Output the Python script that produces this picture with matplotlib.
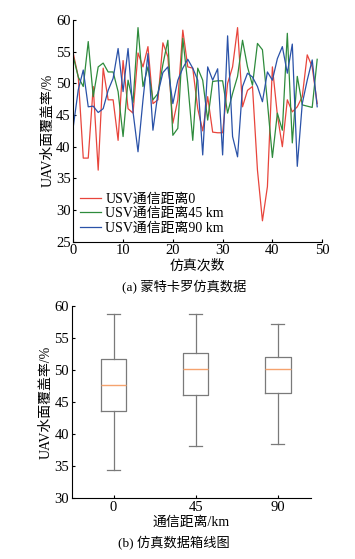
import numpy as np
import matplotlib.pyplot as plt

plt.rcParams['font.family'] = ['Liberation Serif', 'Noto Sans CJK SC']
plt.rcParams['axes.unicode_minus'] = False

# monte carlo runs, coverage rate (%)
runs = np.arange(50)
cov_0 = [54.7, 51.0, 38.2, 38.2, 49.5, 36.3, 52.4, 47.4, 47.4, 41.0,
         53.6, 46.0, 45.3, 54.8, 52.6, 55.8, 46.8, 47.4, 56.4, 54.2,
         43.7, 47.4, 58.4, 52.6, 52.4, 46.0, 42.5, 47.9, 42.3, 42.2,
         42.2, 50.0, 52.6, 58.8, 46.3, 48.9, 49.5, 36.3, 28.3, 33.7,
         52.6, 45.0, 40.0, 47.4, 45.5, 46.3, 47.9, 54.5, 52.6, 46.8]
cov_45 = [54.2, 51.0, 49.5, 56.6, 47.9, 52.6, 53.2, 51.8, 51.8, 48.7,
          41.6, 50.5, 47.0, 58.8, 49.5, 52.6, 47.4, 48.4, 53.0, 56.8,
          41.8, 42.9, 57.1, 50.0, 41.0, 52.4, 50.5, 44.2, 50.3, 50.4,
          50.4, 45.3, 48.4, 51.1, 56.8, 52.6, 49.7, 56.3, 55.3, 47.0,
          38.3, 45.3, 42.6, 57.9, 40.6, 51.1, 46.6, 46.4, 46.2, 53.8]
cov_90 = [43.2, 49.0, 52.1, 46.3, 46.4, 45.4, 46.0, 48.9, 50.8, 55.5,
          48.7, 55.5, 45.5, 39.2, 47.4, 54.7, 42.6, 48.4, 51.7, 52.6,
          46.8, 50.5, 52.4, 53.8, 52.4, 50.5, 38.7, 52.6, 50.5, 52.3,
          38.7, 57.5, 41.6, 38.4, 49.5, 51.6, 51.0, 49.5, 47.1, 51.8,
          50.5, 53.9, 55.8, 51.6, 56.2, 36.9, 46.8, 50.5, 53.7, 46.3]

# box plot stats
dist_labels = ['0', '45', '90']
whis_lo = [34.4, 38.2, 38.4]
q1 = [43.6, 46.1, 46.4]
med = [47.7, 50.1, 50.2]
q3 = [51.8, 52.7, 52.1]
whis_hi = [58.8, 58.8, 57.2]

fig = plt.figure(figsize=(3.55, 5.59), dpi=100)
fs = 10.5

ax1 = fig.add_axes([0.2065, 0.5676, 0.701, 0.3966])
ax1.plot(runs, cov_0, color='#e8453c', lw=0.9, label='USV通信距离0')
ax1.plot(runs, cov_45, color='#2e8b3c', lw=0.9, label='USV通信距离45 km')
ax1.plot(runs, cov_90, color='#2a52a8', lw=0.9, label='USV通信距离90 km')
ax1.set_xlim(0, 50)
ax1.set_ylim(25, 60)
ax1.set_xticks([0, 10, 20, 30, 40, 50])
ax1.set_yticks([25, 30, 35, 40, 45, 50, 55, 60])
ax1.spines['top'].set_visible(False)
ax1.spines['right'].set_visible(False)
ax1.tick_params(direction='in', labelsize=fs, length=2.5, pad=2)
ax1.set_xlabel('仿真次数', fontsize=10, labelpad=1)
ax1.set_ylabel('UAV水面覆盖率/%', fontsize=10, labelpad=1)
ax1.legend(loc='lower left', frameon=False, fontsize=10, handlelength=1.5,
           handletextpad=0.3, labelspacing=0.12, borderaxespad=0.1,
           bbox_to_anchor=(0.0, 0.0))
fig.text(0.52, 0.488, '(a) 蒙特卡罗仿真数据', fontsize=9.5, ha='center', va='center')

ax2 = fig.add_axes([0.202, 0.1086, 0.673, 0.344])
stats = []
for i in range(3):
    stats.append(dict(whislo=whis_lo[i], q1=q1[i], med=med[i], q3=q3[i],
                      whishi=whis_hi[i], fliers=[], label=dist_labels[i]))
gray = '#7a7a7a'
ax2.bxp(stats, positions=[1, 2, 3], widths=0.31, showfliers=False,
        boxprops=dict(color=gray, lw=0.9),
        whiskerprops=dict(color=gray, lw=0.9),
        capprops=dict(color=gray, lw=0.9),
        medianprops=dict(color='#f5a36e', lw=1.0))
ax2.set_xlim(0.49, 3.4)
ax2.set_ylim(30, 60)
ax2.set_yticks([30, 35, 40, 45, 50, 55, 60])
ax2.spines['top'].set_visible(False)
ax2.spines['right'].set_visible(False)
ax2.tick_params(direction='in', labelsize=fs, length=2.5, pad=2)
ax2.set_xlabel('通信距离/km', fontsize=10, labelpad=1)
ax2.set_ylabel('UAV水面覆盖率/%', fontsize=10, labelpad=1)
fig.text(0.49, 0.029, '(b) 仿真数据箱线图', fontsize=9.5, ha='center', va='center')

fig.savefig('out.png', dpi=100)
